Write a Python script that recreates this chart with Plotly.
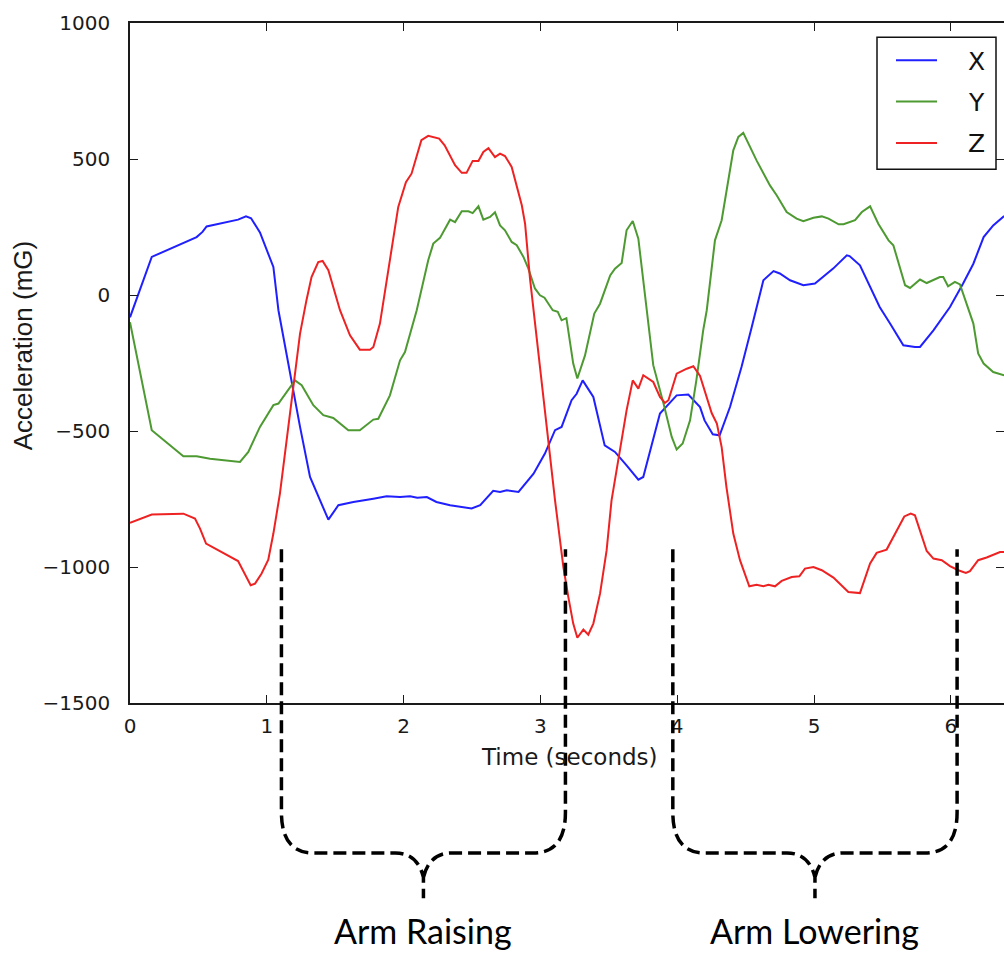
import plotly.graph_objects as go

# ---------------- data ----------------
series_names = ["X", "Y", "Z"]
series_colors = ["#2020ff", "#4e9a32", "#ee2222"]

t_x = [0.000, 0.159, 0.487, 0.530, 0.560, 0.790, 0.848, 0.885, 0.950, 1.000, 1.048, 1.085,
       1.170, 1.243, 1.316, 1.450, 1.523, 1.633, 1.779, 1.876, 1.974, 2.047, 2.100, 2.170,
       2.240, 2.340, 2.497, 2.560, 2.655, 2.705, 2.754, 2.840, 2.950, 3.033, 3.107, 3.155,
       3.228, 3.265, 3.309, 3.387, 3.470, 3.545, 3.630, 3.716, 3.752, 3.874, 3.996, 4.081,
       4.167, 4.200, 4.260, 4.310, 4.386, 4.470, 4.545, 4.618, 4.630, 4.704, 4.750, 4.825,
       4.922, 5.007, 5.140, 5.240, 5.260, 5.336, 5.420, 5.480, 5.556, 5.653, 5.738, 5.775,
       5.873, 5.994, 6.090, 6.165, 6.240, 6.310, 6.390]
x_vals = [-82, 140, 213, 232, 252, 277, 289, 282, 230, 164, 103, -56,
          -289, -485, -669, -826, -773, -761, -749, -740, -743, -740, -745, -743,
          -761, -773, -785, -773, -720, -724, -718, -724, -657, -583, -497, -485,
          -387, -363, -314, -375, -553, -577, -626, -679, -669, -436, -369, -366,
          -412, -461, -512, -516, -412, -265, -118, 29, 54, 88, 79, 54,
          36, 42, 97, 146, 143, 109, 17, -44, -105, -185, -191, -191,
          -130, -44, 42, 115, 213, 256, 290]

t_y = [0.000, 0.159, 0.390, 0.487, 0.585, 0.804, 0.865, 0.950, 1.048, 1.085, 1.206, 1.255,
       1.340, 1.413, 1.486, 1.596, 1.680, 1.779, 1.815, 1.900, 1.974, 2.010, 2.096, 2.180,
       2.217, 2.266, 2.340, 2.376, 2.425, 2.474, 2.505, 2.547, 2.583, 2.632, 2.668, 2.705,
       2.741, 2.790, 2.827, 2.876, 2.912, 2.960, 2.997, 3.030, 3.090, 3.127, 3.155, 3.190,
       3.240, 3.270, 3.326, 3.394, 3.436, 3.510, 3.545, 3.594, 3.630, 3.675, 3.716, 3.777,
       3.825, 3.900, 3.960, 3.996, 4.040, 4.094, 4.140, 4.190, 4.216, 4.276, 4.325, 4.410,
       4.447, 4.483, 4.580, 4.678, 4.727, 4.800, 4.873, 4.922, 4.996, 5.057, 5.106, 5.180,
       5.216, 5.300, 5.350, 5.410, 5.470, 5.545, 5.580, 5.666, 5.702, 5.775, 5.824, 5.920,
       5.945, 5.980, 6.030, 6.067, 6.130, 6.165, 6.200, 6.240, 6.310, 6.390]
y_vals = [-100, -497, -593, -593, -602, -614, -577, -485, -405, -399, -314, -332,
          -405, -442, -452, -497, -497, -458, -455, -369, -240, -210, -56, 128,
          189, 210, 277, 268, 308, 308, 301, 326, 277, 287, 304, 256,
          238, 195, 183, 140, 97, 24, -1, -10, -56, -62, -93, -85,
          -252, -307, -222, -68, -32, 72, 97, 118, 238, 272, 207, -56,
          -258, -399, -522, -568, -546, -461, -314, -130, -56, 201, 275, 532,
          581, 596, 495, 403, 367, 305, 281, 271, 284, 289, 281, 260,
          260, 275, 305, 326, 262, 201, 183, 36, 26, 57, 44, 66,
          66, 32, 48, 39, -56, -105, -215, -252, -283, -295]

t_z = [0.000, 0.159, 0.390, 0.475, 0.512, 0.556, 0.790, 0.882, 0.914, 0.962, 1.011, 1.048,
       1.096, 1.145, 1.194, 1.243, 1.290, 1.327, 1.376, 1.408, 1.450, 1.535, 1.608, 1.680,
       1.754, 1.779, 1.827, 1.876, 1.961, 2.017, 2.058, 2.130, 2.180, 2.260, 2.300, 2.376,
       2.425, 2.460, 2.505, 2.547, 2.583, 2.620, 2.668, 2.705, 2.741, 2.790, 2.864, 2.888,
       2.924, 3.107, 3.168, 3.204, 3.240, 3.270, 3.314, 3.350, 3.387, 3.436, 3.484, 3.520,
       3.582, 3.630, 3.675, 3.716, 3.752, 3.825, 3.874, 3.910, 3.936, 3.996, 4.070, 4.118,
       4.167, 4.216, 4.252, 4.290, 4.325, 4.360, 4.410, 4.459, 4.527, 4.580, 4.630, 4.667,
       4.715, 4.764, 4.837, 4.893, 4.934, 4.996, 5.057, 5.142, 5.251, 5.336, 5.410, 5.458,
       5.531, 5.660, 5.707, 5.738, 5.824, 5.873, 5.934, 5.994, 6.055, 6.110, 6.140, 6.200,
       6.262, 6.360, 6.390]
z_vals = [-838, -807, -804, -822, -859, -914, -978, -1067, -1061, -1024, -973, -877,
          -730, -534, -338, -142, -19, 66, 121, 125, 91, -56, -148, -201,
          -201, -191, -105, 54, 324, 415, 446, 569, 585, 575, 550, 477,
          449, 449, 493, 493, 526, 540, 507, 520, 511, 471, 330, 262,
          60, -755, -1000, -1110, -1208, -1260, -1230, -1249, -1208, -1098, -939, -755,
          -559, -424, -314, -344, -295, -320, -375, -397, -387, -289, -271, -262,
          -298, -375, -434, -473, -559, -706, -877, -975, -1071, -1065, -1071, -1065,
          -1071, -1051, -1037, -1034, -1006, -1000, -1012, -1039, -1092, -1096, -987, -948,
          -936, -814, -804, -810, -941, -969, -975, -997, -1012, -1022, -1015, -975,
          -965, -945, -945]

x_ticks = [0, 1, 2, 3, 4, 5, 6]
y_ticks = [-1500, -1000, -500, 0, 500, 1000]
y_tick_labels = ["\u22121500", "\u22121000", "\u2212500", "0", "500", "1000"]

phase_labels = ["Arm Raising", "Arm Lowering"]
phase_start = [1.107, 3.968]
phase_end = [3.183, 6.046]

x_title = "Time (seconds)"
y_title = "Acceleration (mG)"

# ---------------- layout geometry ----------------
W, H = 1004, 954
L, T = 130, 22.7
PLOT_H = 680.0
BOTTOM = T + PLOT_H
PX_PER_S = 136.8
X_MAX = (W - L) / PX_PER_S
Y_MIN, Y_MAX = -1500, 1000


def pxx(px):
    return (px - L) / (W - L)


def pyy(py):
    return (BOTTOM - py) / PLOT_H


fig = go.Figure()
for name, col, tt, vv in zip(series_names, series_colors, [t_x, t_y, t_z], [x_vals, y_vals, z_vals]):
    fig.add_trace(go.Scatter(x=tt, y=vv, mode="lines", name=name,
                             line=dict(color=col, width=2), showlegend=False))

# helper trace so the right-hand tick axis is drawn
fig.add_trace(go.Scatter(x=[None], y=[None], yaxis="y2", showlegend=False, hoverinfo="skip"))

axis_font = dict(family="DejaVu Sans", size=20, color="#1a1a1a")

fig.update_layout(
    width=W, height=H,
    margin=dict(l=L, r=0, t=T, b=H - BOTTOM),
    paper_bgcolor="white", plot_bgcolor="white",
    xaxis=dict(range=[0, X_MAX], tickvals=x_ticks, ticktext=[str(v) for v in x_ticks],
               ticks="inside", ticklen=8, tickwidth=1, tickcolor="#1a1a1a",
               showline=True, linecolor="#1a1a1a", linewidth=1.5, mirror="ticks",
               showgrid=False, zeroline=False, tickfont=axis_font, ticklabelstandoff=4),
    yaxis=dict(range=[Y_MIN, Y_MAX], tickvals=y_ticks, ticktext=y_tick_labels,
               ticks="inside", ticklen=8, tickwidth=1, tickcolor="#1a1a1a",
               showline=True, linecolor="#1a1a1a", linewidth=1.5, mirror=False,
               showgrid=False, zeroline=False, tickfont=axis_font, ticklabelstandoff=14),
    yaxis2=dict(range=[Y_MIN, Y_MAX], tickvals=y_ticks, overlaying="y", side="right",
                ticks="inside", ticklen=8, tickwidth=1, tickcolor="#1a1a1a",
                showticklabels=False, showline=False, showgrid=False, zeroline=False),
    showlegend=False,
)

# axis titles
fig.add_annotation(text=x_title, xref="paper", yref="paper", x=pxx(569), y=pyy(757),
                   showarrow=False, xanchor="center", yanchor="middle",
                   font=dict(family="DejaVu Sans", size=23, color="#1a1a1a"))
fig.add_annotation(text=y_title, xref="paper", yref="paper", x=pxx(23), y=pyy(345),
                   showarrow=False, xanchor="center", yanchor="middle", textangle=-90,
                   font=dict(family="Liberation Sans", size=26, color="#1a1a1a"))

# legend box (drawn by hand to match the reference proportions)
fig.add_shape(type="rect", xref="paper", yref="paper",
              x0=pxx(877), x1=pxx(996), y0=pyy(169), y1=pyy(37),
              line=dict(color="#111111", width=1.5), fillcolor="white", layer="above")
for i, (name, col) in enumerate(zip(series_names, series_colors)):
    ypx = 60 + i * 41.3
    fig.add_shape(type="line", xref="paper", yref="paper",
                  x0=pxx(896), x1=pxx(937), y0=pyy(ypx), y1=pyy(ypx),
                  line=dict(color=col, width=2), layer="above")
    fig.add_annotation(text=name, xref="paper", yref="paper", x=pxx(976), y=pyy(ypx + 1),
                       showarrow=False, xanchor="center", yanchor="middle",
                       font=dict(family="DejaVu Sans", size=25, color="#111111"))

# dashed brackets marking the movement phases
top_py, vend_py, bot_py, join_py, tip_py = 549, 812, 852.7, 877, 898
rx = 32 / PX_PER_S
cx = 28 / PX_PER_S
cc = 6 / PX_PER_S
for label, a, b in zip(phase_labels, phase_start, phase_end):
    c = (a + b) / 2
    p = (f"M {a},{pyy(top_py)} L {a},{pyy(vend_py)} "
         f"Q {a},{pyy(bot_py)} {a + rx},{pyy(bot_py)} "
         f"L {c - cx},{pyy(bot_py)} Q {c - cc},{pyy(bot_py)} {c},{pyy(join_py)} "
         f"L {c},{pyy(tip_py)} "
         f"M {c},{pyy(join_py)} Q {c + cc},{pyy(bot_py)} {c + cx},{pyy(bot_py)} "
         f"L {b - rx},{pyy(bot_py)} Q {b},{pyy(bot_py)} {b},{pyy(vend_py)} "
         f"L {b},{pyy(top_py)}")
    fig.add_shape(type="path", xref="x", yref="paper", path=p,
                  line=dict(color="black", width=3.5, dash="13px,6px"), layer="above")
    fig.add_annotation(text=label, xref="x", yref="paper", x=c, y=pyy(930),
                       showarrow=False, xanchor="center", yanchor="middle",
                       font=dict(family="Lato", size=34, color="black"))

fig.write_html("out.html", config={"displayModeBar": False},
               post_script="document.body.style.margin='0';document.body.style.overflow='hidden';")
